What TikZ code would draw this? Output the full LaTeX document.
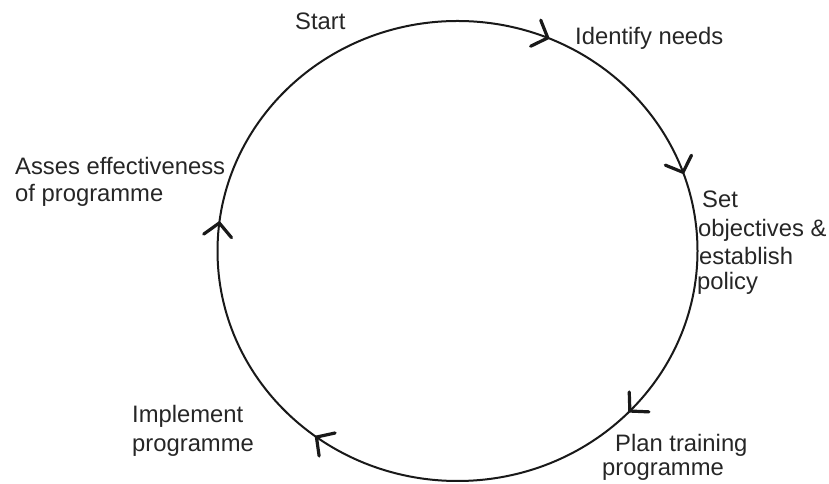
\documentclass[tikz,border=0pt]{standalone}
\usepackage{fontspec}
\setmainfont{Liberation Sans}
\begin{document}
\begin{tikzpicture}[x=1pt,y=1pt,
  lbl/.style={anchor=base west, inner sep=0pt, text=black!85, font=\fontsize{23.8}{28}\selectfont},
  cycle line/.style={line width=2pt, black!90},
  chevron/.style={line width=3.2pt, line cap=round, line join=round, black!90}
]
\useasboundingbox (0,0) rectangle (829,484);
\coordinate (c) at (457.5,233);
% labels
\node[lbl] (start) at (295,454) {Start};
\node[lbl] (identify) at (575,439) {Identify needs};
\node[lbl] (set1) at (702,276) {Set};
\node[lbl] (set2) at (698,247) {objectives \&};
\node[lbl] (set3) at (699,219) {establish};
\node[lbl] (set4) at (697,194) {policy};
\node[lbl] (plan1) at (615,32) {Plan training};
\node[lbl] (plan2) at (602,9) {programme};
\node[lbl] (impl1) at (132,61) {Implement};
\node[lbl] (impl2) at (132,32) {programme};
\node[lbl] (asses1) at (15,309) {Asses effectiveness};
\node[lbl] (asses2) at (15,282) {of programme};
% cycle
\draw[white, line width=4.5pt] (c) ellipse [x radius=240pt, y radius=230pt];
\draw[cycle line] (c) ellipse [x radius=240pt, y radius=230pt];
% arrow tips on the cycle (clockwise)
\path (c) ++(67.9:240pt and 230pt) coordinate (t1);
\path (c) ++(20:240pt and 230pt) coordinate (t2);
\path (c) ++(-44.1:240pt and 230pt) coordinate (t3);
\path (c) ++(-126:240pt and 230pt) coordinate (t4);
\path (c) ++(173:240pt and 230pt) coordinate (t5);
\draw[chevron, shift={(t1)}, rotate=-21.2] (-13,14) -- (0,0) -- (-13,-14);
\draw[chevron, shift={(t2)}, rotate=-69.2] (-13,14) -- (0,0) -- (-13,-14);
\draw[chevron, shift={(t3)}, rotate=-135.3] (-13,14) -- (0,0) -- (-13,-14);
\draw[chevron, shift={(t4)}, rotate=145.2] (-13,14) -- (0,0) -- (-13,-14);
\draw[chevron, shift={(t5)}, rotate=82.7] (-13,14) -- (0,0) -- (-13,-14);
\end{tikzpicture}
\end{document}
